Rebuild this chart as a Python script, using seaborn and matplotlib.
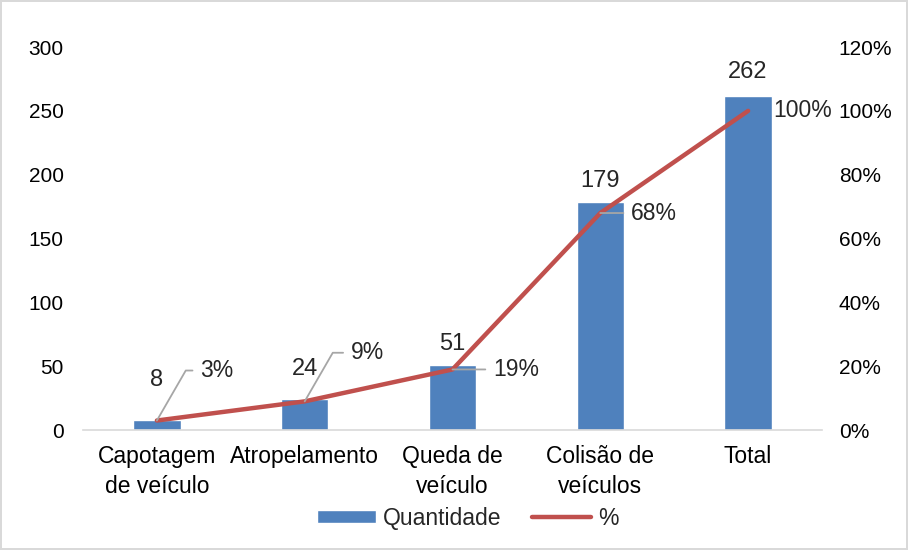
import numpy as np
import matplotlib.pyplot as plt
import seaborn as sns
from matplotlib.lines import Line2D
from matplotlib.patches import Patch
from matplotlib.ticker import PercentFormatter

# ---------- Data ---------- #
categories = ["Capotagem\nde veículo", "Atropelamento", "Queda de\nveículo", "Colisão de\nveículos", "Total"]
quantidade = [8, 24, 51, 179, 262]
percent = [0.03, 0.09, 0.19, 0.68, 1.00]
percent_labels = ["3%", "9%", "19%", "68%", "100%"]

# ---------- Style ---------- #
sns.set_theme(style="white")
plt.rcParams['font.family'] = ['Liberation Sans', 'DejaVu Sans']
barColor = "#4F81BD"
lineColor = "#C0504D"
fs = 16.5

fig = plt.figure(figsize=(9.08, 5.5), dpi=100)
fig.patch.set_edgecolor("#d9d9d9")
fig.patch.set_linewidth(1.5)
ax = fig.add_axes([0.0914, 0.218, 0.8139, 0.6965])

sns.barplot(x=categories, y=quantidade, color=barColor, width=0.32, saturation=1, ax=ax)
ax.set_ylim(0, 300)
ax.set_yticks(range(0, 301, 50))
ax.set_xlim(-0.5, len(categories) - 0.5)

ax2 = ax.twinx()
xpos = np.arange(len(categories))
sns.lineplot(x=xpos, y=percent, color=lineColor, linewidth=3.2, ax=ax2)
ax2.set_ylim(0, 1.2)
ax2.set_yticks(np.arange(0, 1.21, 0.2))
ax2.yaxis.set_major_formatter(PercentFormatter(1.0, decimals=0))

for a in (ax, ax2):
    for s in ["top", "left", "right", "bottom"]:
        a.spines[s].set_visible(False)
    a.tick_params(length=0, labelsize=15, colors="black")
    a.set_xlabel("")
    a.set_ylabel("")
ax.spines["bottom"].set_visible(True)
ax.spines["bottom"].set_color("#d9d9d9")
ax.spines["bottom"].set_linewidth(1.2)
ax.tick_params(axis="y", pad=14)
ax.tick_params(axis="x", pad=11, labelsize=fs)
ax2.tick_params(axis="y", pad=12)
for t in ax.get_xticklabels():
    t.set_linespacing(1.35)

# bar value labels
barOffsets = [29, 22, 15, 15, 17]
for i, v in enumerate(quantidade):
    ax.annotate(str(v), (i, v), xytext=(0, barOffsets[i]), textcoords="offset points",
                ha="center", va="center", fontsize=17)

# percent labels with leader lines
pctOffsets = [(31, 36), (33, 35), (29, 0), (22, 0), (18, 0)]
for i, p in enumerate(percent):
    dx, dy = pctOffsets[i]
    if i == len(percent) - 1:
        ax2.annotate(percent_labels[i], (i, p), xytext=(dx, dy), textcoords="offset points",
                     ha="left", va="center", fontsize=fs)
        continue
    conn = "angle,angleA=180,angleB=60,rad=0" if dy > 0 else "arc3"
    ax2.annotate(percent_labels[i], (i, p), xytext=(dx, dy), textcoords="offset points",
                 ha="left", va="center", fontsize=fs,
                 arrowprops=dict(arrowstyle="-", color="#a6a6a6", lw=1.3,
                                 connectionstyle=conn, shrinkA=3, shrinkB=0))

ax2.set_zorder(ax.get_zorder() + 1)

handles = [Patch(facecolor=barColor, label="Quantidade"),
           Line2D([0], [0], color=lineColor, lw=3.2, label="%")]
fig.legend(handles=handles, loc="center", bbox_to_anchor=(0.515, 0.058), ncol=2,
           frameon=False, fontsize=fs, handlelength=2.6, handleheight=0.5,
           handletextpad=0.3, columnspacing=1.3)

fig.savefig("out.png", dpi=100)
